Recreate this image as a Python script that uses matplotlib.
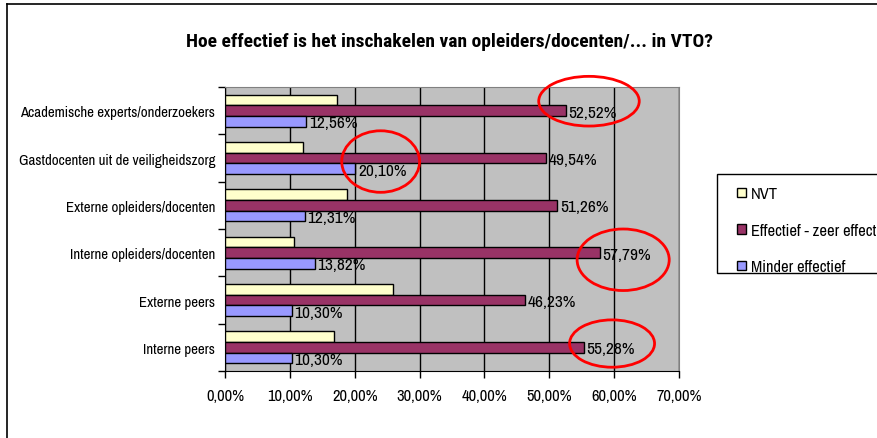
import matplotlib
matplotlib.use("Agg")
import matplotlib.pyplot as plt
from matplotlib.patches import Ellipse, Rectangle
from matplotlib.lines import Line2D
import numpy as np

plt.rcParams['font.family'] = ['Archivo Narrow', 'Roboto Condensed', 'Liberation Sans', 'DejaVu Sans']
title_family = ['Roboto Condensed', 'Liberation Sans', 'DejaVu Sans']

title = "Hoe effectief is het inschakelen van opleiders/docenten/... in VTO?"
categories = ["Academische experts/onderzoekers", "Gastdocenten uit de veiligheidszorg",
              "Externe opleiders/docenten", "Interne opleiders/docenten",
              "Externe peers", "Interne peers"]
series_names = ["NVT", "Effectief - zeer effectief", "Minder effectief"]
nvt = [17.3, 12.0, 18.8, 10.6, 25.9, 16.8]
effectief = [52.52, 49.54, 51.26, 57.79, 46.23, 55.28]
minder = [12.56, 20.10, 12.31, 13.82, 10.30, 10.30]
colors = ["#FFFFCC", "#993366", "#9999FF"]
xticks = [0, 10, 20, 30, 40, 50, 60, 70]
# highlighted labels (category index, series index)
highlights = [(0, 1), (1, 2), (3, 1), (5, 1)]
# hand-drawn circle geometry relative to the label: (dx, dy, width, height)
circle_geom = [(3.6, -0.2, 15.5, 1.05), (3.9, -0.15, 12.0, 1.3),
               (3.6, 0.15, 14.2, 1.3), (4.4, -0.08, 13.1, 1.0)]

W, H = 877, 439
fig = plt.figure(figsize=(W / 100, H / 100), dpi=100)
renderer = fig.canvas.get_renderer()


def fit_size(s, target_px, weight="normal", family=None, base=12.0):
    kw = {"family": family} if family else {}
    t = fig.text(0, 0, s, fontsize=base, fontweight=weight, **kw)
    w = t.get_window_extent(renderer).width
    t.remove()
    return base * target_px / w


fs_title = fit_size(title, 525, "bold", title_family)
fs_cat = fit_size(categories[0], 195)
fs_tick = fit_size("10,00%", 46)
fs_val = fit_size("52,52%", 48)
fs_leg = fit_size("Minder effectief", 94)

ax = fig.add_axes([225 / W, 1 - 372 / H, (679 - 225) / W, (372 - 88) / H])
ax.set_facecolor("#C0C0C0")

y = np.arange(len(categories))
bh = 0.225
offsets = [-bh, 0, bh]
data = [nvt, effectief, minder]
for vals, off, c, name in zip(data, offsets, colors, series_names):
    ax.barh(y + off, vals, height=bh, color=c, edgecolor="black", linewidth=1.0,
            label=name, zorder=3)

for si in (1, 2):
    for i, v in enumerate(data[si]):
        ax.text(v + 0.4, y[i] + offsets[si] + 0.03, f"{v:.2f}%".replace(".", ","),
                va="center", ha="left", fontsize=fs_val, zorder=5)

for (ci, si), (dx, dy, ew, eh) in zip(highlights, circle_geom):
    v = data[si][ci]
    e = Ellipse((v + dx, y[ci] + offsets[si] + dy), width=ew, height=eh,
                fill=False, edgecolor="#FF0000", linewidth=2, zorder=6, clip_on=False)
    ax.add_patch(e)

ax.set_xlim(0, 70)
ax.set_ylim(len(categories) - 0.5, -0.5)
ax.set_xticks(xticks)
ax.set_xticklabels([f"{t:.2f}%".replace(".", ",") for t in xticks], fontsize=fs_tick)
ax.set_yticks(y)
ax.set_yticklabels(categories, fontsize=fs_cat)
ax.tick_params(axis="y", length=0, pad=7)
ax.set_yticks(np.arange(len(categories) + 1) - 0.5, minor=True)
ax.tick_params(axis="y", which="minor", length=5, width=1, direction="out")
ax.tick_params(axis="x", length=5, width=1, direction="out", pad=7)
ax.grid(axis="x", color="black", linewidth=1, zorder=1)
for s in ax.spines.values():
    s.set_color("#808080")
ax.spines["left"].set_color("black")
ax.spines["bottom"].set_color("black")

fig.text(449 / W, 1 - 42 / H, title, ha="center", va="center", fontsize=fs_title,
         fontweight="bold", family=title_family)

# legend frame (extends past the right edge, as in the reference)
fig.add_artist(Rectangle((717 / W, 1 - 274 / H), 200 / W, 99 / H, transform=fig.transFigure,
                         facecolor="white", edgecolor="black", linewidth=1, zorder=1))
leg = fig.legend(loc="upper left", bbox_to_anchor=(734 / W, 1 - 184 / H), fontsize=fs_leg,
                 frameon=False, handlelength=0.5, handleheight=0.5, handletextpad=0.3,
                 labelspacing=1.3, borderpad=0.2, borderaxespad=0)
leg.set_zorder(2)

fig.add_artist(Line2D([7 / W, 7 / W], [0, 1 - 5 / H], color="black", linewidth=1.2))
fig.add_artist(Line2D([7 / W, 1], [1 - 5 / H, 1 - 5 / H], color="black", linewidth=1.2))

fig.savefig("out.png", dpi=100)
